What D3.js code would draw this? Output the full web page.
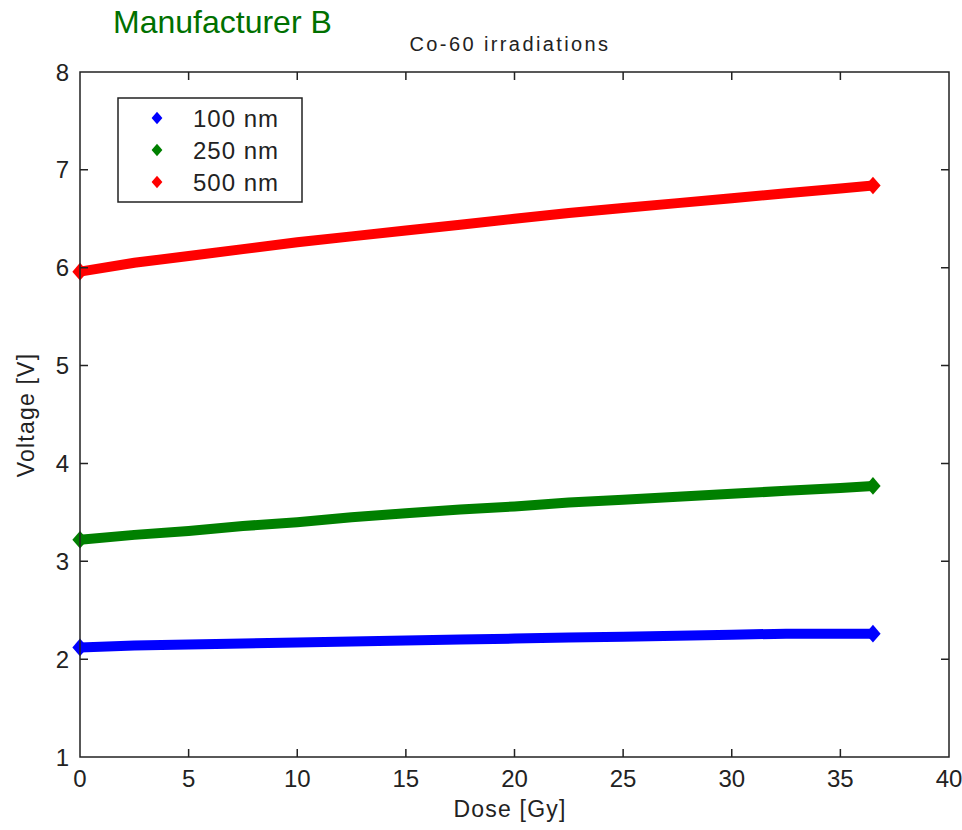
<!DOCTYPE html>
<html>
<head>
<meta charset="utf-8">
<script src="https://cdn.jsdelivr.net/npm/d3@7"></script>
<style>
	body { margin: 0; background: #fff; }
	text { font-family: "Liberation Sans", Arial, sans-serif; fill: #222; }
</style>
</head>
<body>
<svg id="chart" width="962" height="830"></svg>
<script>
	// values
	var dose = [0, 2.5, 5, 7.5, 10, 12.5, 15, 17.5, 20, 22.5, 25, 27.5, 30, 32.5, 35, 36.5];
	var v100 = [2.12, 2.14, 2.15, 2.16, 2.17, 2.18, 2.19, 2.20, 2.21, 2.22, 2.23, 2.24, 2.25, 2.26, 2.26, 2.26];
	var v250 = [3.22, 3.27, 3.31, 3.36, 3.40, 3.45, 3.49, 3.53, 3.56, 3.60, 3.63, 3.66, 3.69, 3.72, 3.75, 3.77];
	var v500 = [5.96, 6.05, 6.12, 6.19, 6.26, 6.32, 6.38, 6.44, 6.50, 6.56, 6.61, 6.66, 6.71, 6.76, 6.81, 6.84];
	var seriesNames = ["100 nm", "250 nm", "500 nm"],
		seriesColors = ["#0000ff", "#008000", "#ff0000"];
	var xTicks = [0, 5, 10, 15, 20, 25, 30, 35, 40],
		yTicks = [1, 2, 3, 4, 5, 6, 7, 8];

	var plotL = 80, plotR = 949, plotT = 72, plotB = 757,
		tickLen = 8;

	var svg = d3.select("#chart");

	var x = d3.scaleLinear().domain([0, 40]).range([plotL, plotR]),
		y = d3.scaleLinear().domain([1, 8]).range([plotB, plotT]);

	var series = [v100, v250, v500].map(function (vals, i) {
		return {
			name: seriesNames[i],
			color: seriesColors[i],
			points: vals.map(function (v, j) { return [dose[j], v]; })
		};
	});

	// data: the dense markers read as a thick band, pointed at the ends
	var line = d3.line()
		.x(function (d) { return x(d[0]); })
		.y(function (d) { return y(d[1]); });

	var diamond = d3.symbol().type(d3.symbolDiamond).size(90);

	var g = svg.append("g");
	series.forEach(function (s) {
		g.append("path")
			.attr("d", line(s.points))
			.attr("fill", "none")
			.attr("stroke", s.color)
			.attr("stroke-width", 10);
		g.selectAll(null)
			.data([s.points[0], s.points[s.points.length - 1]])
			.enter()
			.append("path")
			.attr("d", diamond)
			.attr("fill", s.color)
			.attr("transform", function (d) {
				return "translate(" + x(d[0]) + "," + y(d[1]) + ") scale(1.5,1)";
			});
	});

	// axes box with inward ticks
	var axes = svg.append("g").attr("stroke", "#222").attr("stroke-width", 1.5);
	axes.append("rect")
		.attr("x", plotL).attr("y", plotT)
		.attr("width", plotR - plotL).attr("height", plotB - plotT)
		.attr("fill", "none");

	axes.selectAll(".xt")
		.data(xTicks.slice(1, -1))
		.enter()
		.append("path")
		.attr("d", function (d) {
			return "M" + x(d) + "," + plotB + "v" + (-tickLen) +
				"M" + x(d) + "," + plotT + "v" + tickLen;
		});

	axes.selectAll(".yt")
		.data(yTicks.slice(1, -1))
		.enter()
		.append("path")
		.attr("d", function (d) {
			return "M" + plotL + "," + y(d) + "h" + tickLen +
				"M" + plotR + "," + y(d) + "h" + (-tickLen);
		});

	svg.selectAll(".xl")
		.data(xTicks)
		.enter()
		.append("text")
		.attr("x", function (d) { return x(d); })
		.attr("y", plotB + 30)
		.attr("text-anchor", "middle")
		.attr("font-size", 24)
		.text(function (d) { return d; });

	svg.selectAll(".yl")
		.data(yTicks)
		.enter()
		.append("text")
		.attr("x", plotL - 11)
		.attr("y", function (d) { return y(d) + 8.5; })
		.attr("text-anchor", "end")
		.attr("font-size", 24)
		.text(function (d) { return d; });

	// labels
	svg.append("text")
		.attr("x", 510)
		.attr("y", 817)
		.attr("text-anchor", "middle")
		.attr("font-size", 23)
		.attr("letter-spacing", 1.2)
		.text("Dose [Gy]");

	svg.append("text")
		.attr("transform", "translate(34,415) rotate(-90)")
		.attr("text-anchor", "middle")
		.attr("font-size", 23)
		.attr("letter-spacing", 1.2)
		.text("Voltage [V]");

	svg.append("text")
		.attr("x", 510)
		.attr("y", 51)
		.attr("text-anchor", "middle")
		.attr("font-size", 20)
		.attr("letter-spacing", 2.4)
		.text("Co-60 irradiations");

	svg.append("text")
		.attr("x", 113)
		.attr("y", 33)
		.attr("font-size", 32)
		.style("fill", "#007000")
		.text("Manufacturer B");

	// legend
	var legend = svg.append("g");
	legend.append("rect")
		.attr("x", 118).attr("y", 98)
		.attr("width", 184).attr("height", 104)
		.attr("fill", "#fff")
		.attr("stroke", "#222")
		.attr("stroke-width", 1.5);

	var items = legend.selectAll(".item")
		.data(series)
		.enter()
		.append("g")
		.attr("transform", function (d, i) { return "translate(0," + (118 + i * 32) + ")"; });

	items.append("path")
		.attr("d", d3.symbol().type(d3.symbolDiamond).size(45))
		.attr("transform", "translate(157,0) scale(1.5,1)")
		.attr("fill", function (d) { return d.color; });

	items.append("text")
		.attr("x", 193)
		.attr("y", 8.5)
		.attr("font-size", 24)
		.attr("letter-spacing", 1)
		.text(function (d) { return d.name; });
</script>
</body>
</html>
